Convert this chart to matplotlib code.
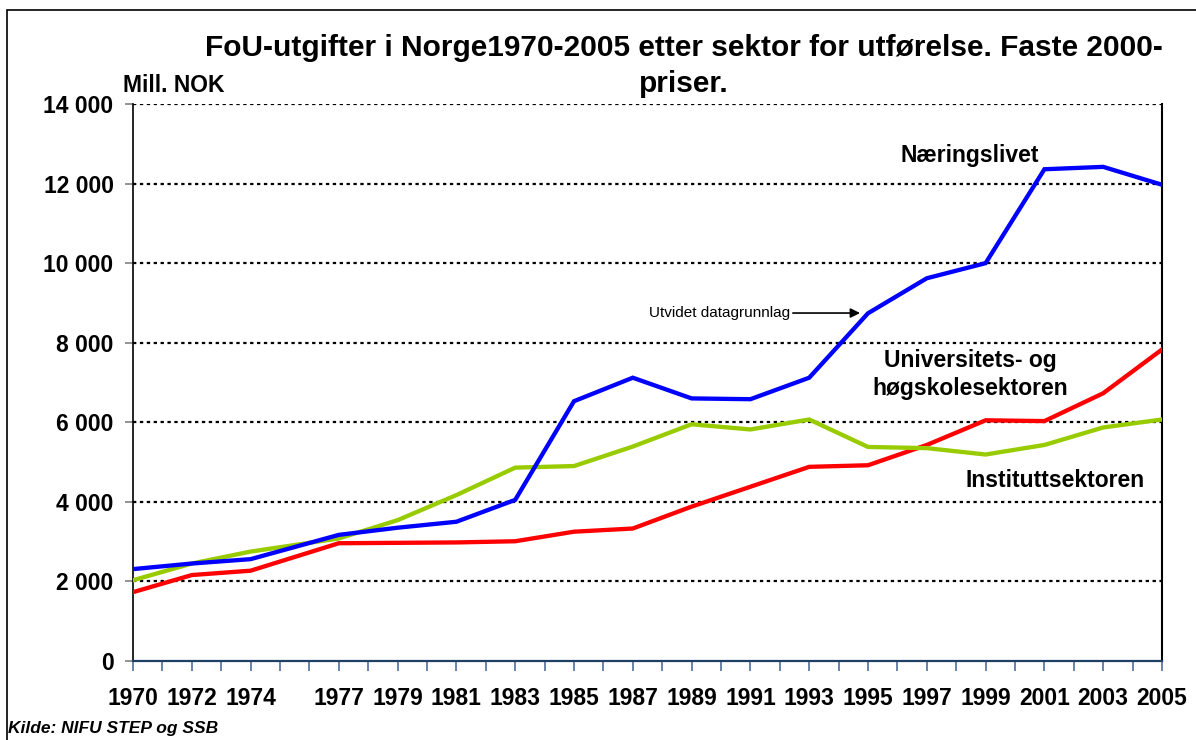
import matplotlib
matplotlib.use("Agg")
import matplotlib.pyplot as plt
from matplotlib.ticker import FuncFormatter, MultipleLocator, FixedLocator
from matplotlib.patches import Rectangle

plt.rcParams['font.family'] = ['Liberation Sans', 'DejaVu Sans']

years = [1970, 1972, 1974, 1977, 1979, 1981, 1983, 1985, 1987, 1989,
         1991, 1993, 1995, 1997, 1999, 2001, 2003, 2005]
naeringslivet = [2310, 2450, 2560, 3170, 3350, 3500, 4050, 6530, 7120, 6600,
                 6580, 7120, 8740, 9620, 10000, 12360, 12420, 11970]
uh_sektor = [1730, 2160, 2270, 2960, 2970, 2980, 3010, 3250, 3330, 3880,
             4380, 4880, 4920, 5430, 6050, 6030, 6730, 7830]
instituttsektor = [2030, 2450, 2750, 3080, 3540, 4170, 4860, 4900, 5390, 5950,
                   5820, 6070, 5380, 5350, 5190, 5430, 5870, 6070]
tick_years = years
y_ticks = [0, 2000, 4000, 6000, 8000, 10000, 12000, 14000]

W, H = 1196, 740
fig = plt.figure(figsize=(W / 100, H / 100), dpi=100)
ax = fig.add_axes([133 / W, 1 - 661 / H, (1162 - 133) / W, (661 - 104) / H])

# frame around figure
fig.patches.append(Rectangle((7 / W, -0.05), 1.2, 1 - 10 / H + 0.05,
                             transform=fig.transFigure, fill=False,
                             edgecolor='black', linewidth=1.2, clip_on=False))

for yv in y_ticks[1:]:
    ax.axhline(yv, color='black', linewidth=1.6, linestyle=(0, (1.5, 1.6)), zorder=1)

ax.plot(years, uh_sektor, color='#FF0000', linewidth=3.1, zorder=3, solid_joinstyle='miter')
ax.plot(years, naeringslivet, color='#0000FF', linewidth=3.1, zorder=4, solid_joinstyle='miter')
ax.plot(years, instituttsektor, color='#99CC00', linewidth=3.1, zorder=3.5, solid_joinstyle='miter')

ax.set_xlim(1970, 2005)
ax.set_ylim(0, 14000)

ax.spines['top'].set_visible(False)
ax.spines['left'].set_color('black')
ax.spines['left'].set_linewidth(1.2)
ax.spines['right'].set_color('black')
ax.spines['right'].set_linewidth(1.5)
ax.spines['bottom'].set_color('#1F3F66')
ax.spines['bottom'].set_linewidth(1.6)

ax.yaxis.set_major_locator(FixedLocator(y_ticks))
ax.yaxis.set_major_formatter(FuncFormatter(lambda v, p: f"{int(v):,}".replace(",", " ")))
ax.tick_params(axis='y', length=6, width=1.2, color='#808080', pad=8,
               labelsize=16.5)
for lab in ax.get_yticklabels():
    lab.set_fontweight('bold')

ax.xaxis.set_major_locator(FixedLocator(tick_years))
ax.xaxis.set_minor_locator(MultipleLocator(1))
ax.set_xticklabels([str(y) for y in tick_years], fontweight='bold')
ax.tick_params(axis='x', which='both', length=7, width=1.2, color='#4F6F9F')
ax.tick_params(axis='x', which='major', pad=12, labelsize=16.5)

# title
fig.text(684 / W, 1 - 56 / H,
         "FoU-utgifter i Norge1970-2005 etter sektor for utførelse. Faste 2000-",
         ha='center', va='baseline', fontsize=21.5, fontweight='bold')
fig.text(684 / W, 1 - 92 / H, "priser.", ha='center', va='baseline',
         fontsize=21.5, fontweight='bold')
fig.text(123 / W, 1 - 92 / H, "Mill. NOK", ha='left', va='baseline',
         fontsize=16.5, fontweight='bold')
fig.text(8 / W, 1 - 733 / H, "Kilde: NIFU STEP og SSB", ha='left', va='baseline',
         fontsize=12.5, fontweight='bold', fontstyle='italic')

# series labels
ax.text(1996.09, 12540, "Næringslivet", ha='left', va='baseline',
        fontsize=16.5, fontweight='bold')
ax.text(1998.47, 7388, "Universitets- og", ha='center', va='baseline',
        fontsize=16.5, fontweight='bold')
ax.text(1998.47, 6685, "høgskolesektoren", ha='center', va='baseline',
        fontsize=16.5, fontweight='bold')
ax.text(1998.33, 4373, "Instituttsektoren", ha='left', va='baseline',
        fontsize=16.5, fontweight='bold')

ax.annotate("Utvidet datagrunnlag", xy=(1994.73, 8746), xytext=(1992.35, 8746),
            ha='right', va='center', fontsize=11,
            arrowprops=dict(arrowstyle='-|>', color='black', linewidth=1.2,
                            mutation_scale=14, shrinkA=0, shrinkB=0))

fig.savefig("out.png", dpi=100)
